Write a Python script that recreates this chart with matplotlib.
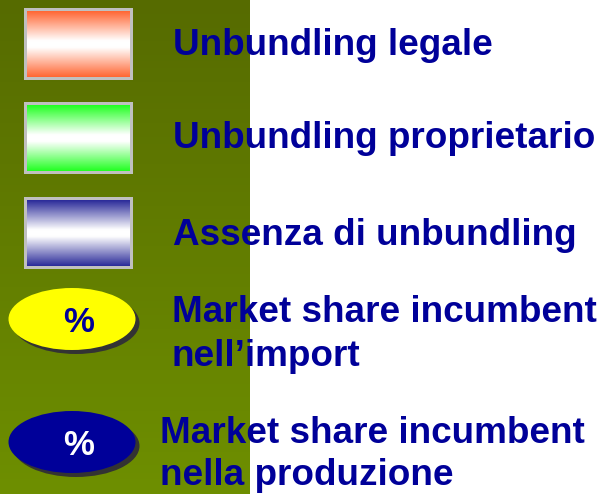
import numpy as np
import matplotlib
matplotlib.use("Agg")
import matplotlib.pyplot as plt
from matplotlib.patches import Rectangle, Ellipse
from matplotlib.colors import LinearSegmentedColormap

# Legend content
box_labels = ["Unbundling legale", "Unbundling proprietario", "Assenza di unbundling"]
box_colors = ["#ff6633", "#22ff22", "#2a2a99"]
oval_labels = [["Market share incumbent", "nell\u2019import"],
               ["Market share incumbent", "nella produzione"]]
oval_fill = ["#ffff00", "#000099"]
oval_text_color = ["#000099", "#ffffff"]
oval_symbol = ["%", "%"]

W, H = 603, 494
fig = plt.figure(figsize=(W / 100, H / 100), dpi=100)
ax = fig.add_axes([0, 0, 1, 1])
ax.set_xlim(0, W)
ax.set_ylim(H, 0)
ax.axis("off")

# background green band (vertical gradient)
band = LinearSegmentedColormap.from_list("band", ["#566b00", "#6e8f00"])
grad = np.linspace(0, 1, 256).reshape(-1, 1)
ax.imshow(grad, cmap=band, extent=[0, 250, H, 0], aspect="auto", zorder=0)

text_color = "#000099"
font = "Liberation Sans"
fs = 26.6

# gradient boxes
box_tops = [8, 102, 197]
box_base = [55, 148, 245]
for top, base, col, lab in zip(box_tops, box_base, box_colors, box_labels):
    x0, w, h = 24, 109, 72
    ax.add_patch(Rectangle((x0, top), w, h, facecolor="#c0c0c0", edgecolor="none", zorder=1))
    cm = LinearSegmentedColormap.from_list(
        "g", [(0, col), (0.45, "#ffffff"), (0.55, "#ffffff"), (1, col)])
    ax.imshow(grad, cmap=cm, extent=[x0 + 3, x0 + w - 3, top + h - 3, top + 3],
              aspect="auto", zorder=2, interpolation="bilinear")
    ax.text(173, base, lab, color=text_color, fontsize=fs, fontweight="bold",
            family=font, va="baseline", ha="left", zorder=3)

# ovals
oval_cy = [319, 442]
oval_tx = [172, 160]
oval_base = [[322, 366], [443, 485]]
for cy, fc, tc, sym, lines, tx, bases in zip(oval_cy, oval_fill, oval_text_color,
                                             oval_symbol, oval_labels, oval_tx, oval_base):
    ax.add_patch(Ellipse((76, cy + 4), 127, 62, facecolor="#333333", edgecolor="none", zorder=1))
    ax.add_patch(Ellipse((72, cy), 127, 62, facecolor=fc, edgecolor="none", zorder=2))
    ax.text(79, cy + 13, sym, color=tc, fontsize=25, fontweight="bold", family=font,
            ha="center", va="baseline", zorder=3)
    for line, b in zip(lines, bases):
        ax.text(tx, b, line, color=text_color, fontsize=fs, fontweight="bold",
                family=font, va="baseline", ha="left", zorder=3)

fig.savefig("out.png", dpi=100)
